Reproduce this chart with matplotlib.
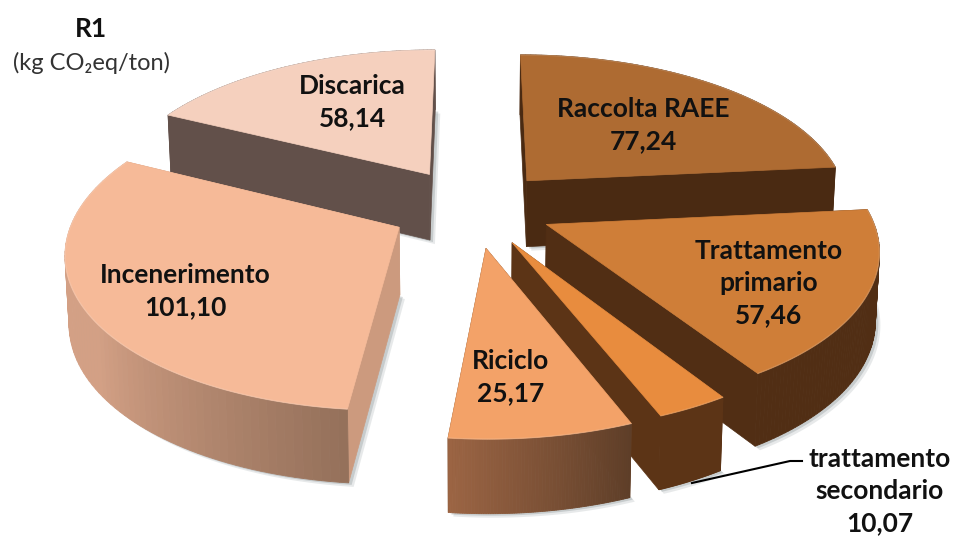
import numpy as np
import matplotlib
matplotlib.use('Agg')
import matplotlib.pyplot as plt
from matplotlib.patches import Polygon

plt.rcParams['font.family'] = ['Lato', 'DejaVu Sans']

# kg CO2eq/ton per fase
categorie = ['Raccolta RAEE', 'Trattamento\nprimario', 'trattamento\nsecondario',
             'Riciclo', 'Incenerimento', 'Discarica']
valori = [77.24, 57.46, 10.07, 25.17, 101.10, 58.14]

# colori: faccia, pareti radiali, parete esterna (inizio, fine)
col_top = ['#AE6B32', '#CF7E38', '#E88C3E', '#F3A268', '#F6BA98', '#F5D0BE']
col_wall = ['#4A2A12', '#512E14', '#5C3416', '#6B4020', '#CC9A7E', '#62504A']
col_out = [('#4A2A12', '#4A2A12'), ('#512E14', '#512E14'), ('#5C3416', '#5C3416'),
           ('#5E3E28', '#9C6544'), ('#94705A', '#D3A085'), ('#62504A', '#62504A')]
esplosione = [0.25, 0.245, 0.25, 0.26, 0.26, 0.27]
ordine = [5, 0, 4, 1, 2, 3]  # dal fondo verso il davanti

# proiezione prospettica del piano della torta
cx, cy = 474, 208
A, a, p = 323, 151, 0.142
h0, hq = 67, 6


def proj(X, Y):
    s = 1 / (1 - p * Y)
    return cx + A * X * s, cy + a * Y * s


def proj_bottom(X, Y):
    x, y = proj(X, Y)
    return cx + (x - cx) * 0.99, y + h0 + hq * Y


fig = plt.figure(figsize=(9.54, 5.38), dpi=100)
ax = fig.add_axes([0, 0, 1, 1])
ax.set_xlim(0, 954)
ax.set_ylim(538, 0)
ax.axis('off')

# angoli cumulati in senso orario da ore 12
ang = np.concatenate([[0], np.cumsum(valori)]) / np.sum(valori) * 2 * np.pi

for i in ordine:
    t0, t1 = ang[i], ang[i + 1]
    m = (t0 + t1) / 2
    ox, oy = esplosione[i] * np.sin(m), -esplosione[i] * np.cos(m)
    th = np.linspace(t0, t1, 80)
    Xa, Ya = ox + np.sin(th), oy - np.cos(th)

    top_arc = np.column_stack(proj(Xa, Ya))
    bot_arc = np.column_stack(proj_bottom(Xa, Ya))
    apex_t = np.array(proj(ox, oy))
    apex_b = np.array(proj_bottom(ox, oy))

    # ombra sotto il settore
    bottom = np.vstack([apex_b, bot_arc])
    for off, al in [(5, 0.18), (3, 0.3)]:
        ax.add_patch(Polygon(bottom + [off, off - 1], closed=True, fc='#7f8a8c', ec='none', alpha=al))

    # pareti radiali
    for k in (0, -1):
        ax.add_patch(Polygon([apex_t, top_arc[k], bot_arc[k], apex_b], closed=True,
                             fc=col_wall[i], ec=col_wall[i], lw=0.5))

    # parete esterna a fette per la sfumatura
    c0 = np.array(matplotlib.colors.to_rgb(col_out[i][0]))
    c1 = np.array(matplotlib.colors.to_rgb(col_out[i][1]))
    for j in range(len(th) - 1):
        f = (j + 0.5) / (len(th) - 1)
        if i == 4:
            f = min(f / 0.45, 1)  # incenerimento: sfuma solo nella parte in vista
        c = c0 + (c1 - c0) * f
        ax.add_patch(Polygon([top_arc[j], top_arc[j + 1], bot_arc[j + 1], bot_arc[j]], closed=True,
                             fc=c, ec=c, lw=0.6))

    # faccia superiore
    ax.add_patch(Polygon(np.vstack([apex_t, top_arc]), closed=True, fc=col_top[i], ec=col_top[i], lw=0.5))
    ax.plot(top_arc[:, 0], top_arc[:, 1], color='white', alpha=0.15, lw=1.0, solid_capstyle='round')

# etichette
pos_etichette = [(643, 125), (769, 283), (880, 491), (511, 377), (185, 291), (352, 102)]
for c, v, (x, y) in zip(categorie, valori, pos_etichette):
    ax.text(x, y, c + '\n' + f'{v:.2f}'.replace('.', ','), ha='center', va='center',
            fontsize=19, fontweight='bold', color='#111111', linespacing=1.42)

# linea guida di trattamento secondario
ax.plot([692, 790, 802], [483, 461, 461], color='black', lw=1.5)

ax.text(91, 29, 'R1', ha='center', va='center', fontsize=19, fontweight='bold', color='#111111')
ax.text(92, 63, '(kg CO₂eq/ton)', ha='center', va='center', fontsize=17, color='#333333')

fig.savefig('out.png', dpi=100)
